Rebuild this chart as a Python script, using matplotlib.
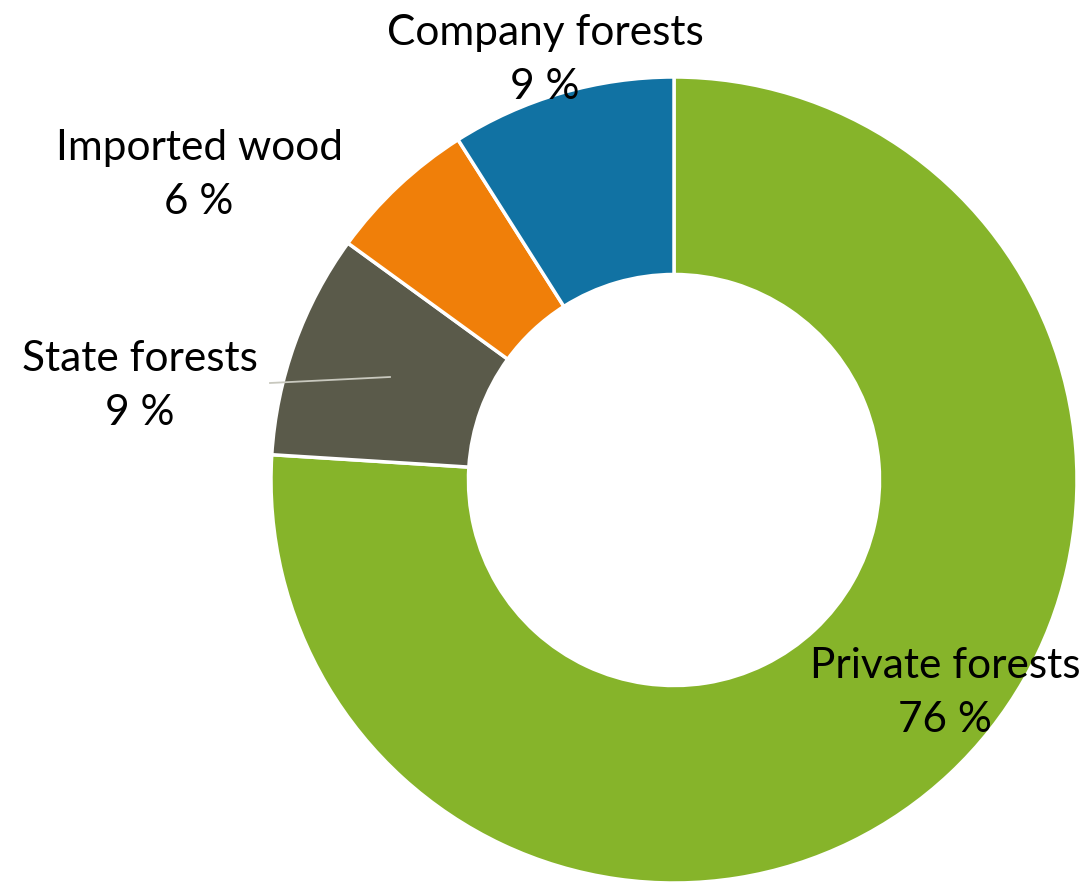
import matplotlib
matplotlib.use("Agg")
import matplotlib.pyplot as plt

# data
labels = ["Private forests", "State forests", "Imported wood", "Company forests"]
shares = [76, 9, 6, 9]
colors = ["#86B42A", "#5A5A4A", "#F07F09", "#1172A3"]

W, H = 1091, 884
cx, cy, R = 674, 480, 403  # pie centre and radius in pixels


def px(x, y):
    # pixel position -> data coords (pie centred at 0,0 with radius 1)
    return (x - cx) / R, (cy - y) / R


plt.rcParams['font.family'] = ['Lato', 'DejaVu Sans']

fig = plt.figure(figsize=(W / 100, H / 100), dpi=100)
ax = fig.add_axes([0, 0, 1, 1])
ax.pie(shares, colors=colors, startangle=90, counterclock=False, radius=1,
       wedgeprops=dict(width=0.49, edgecolor="white", linewidth=2.5))

x0, y0 = px(0, 0)
x1, y1 = px(W, H)
ax.set_xlim(x0, x1)
ax.set_ylim(y1, y0)
ax.set_aspect("equal")
ax.axis("off")

# label positions (pixels, centre of two-line block)
label_pos = [(945, 693), (140, 386), (199, 175), (545, 60)]
for lab, val, (lx, ly) in zip(labels, shares, label_pos):
    tx, ty = px(lx, ly)
    ax.text(tx, ty, "{}\n{} %".format(lab, val), ha="center", va="center",
            fontsize=30.5, color="black", linespacing=1.5)

# leader line for State forests
xa, ya = px(270, 383)
xb, yb = px(390, 377)
ax.plot([xa, xb], [ya, yb], color="#C8C8BE", lw=1.3)

plt.savefig("out.png", dpi=100)
